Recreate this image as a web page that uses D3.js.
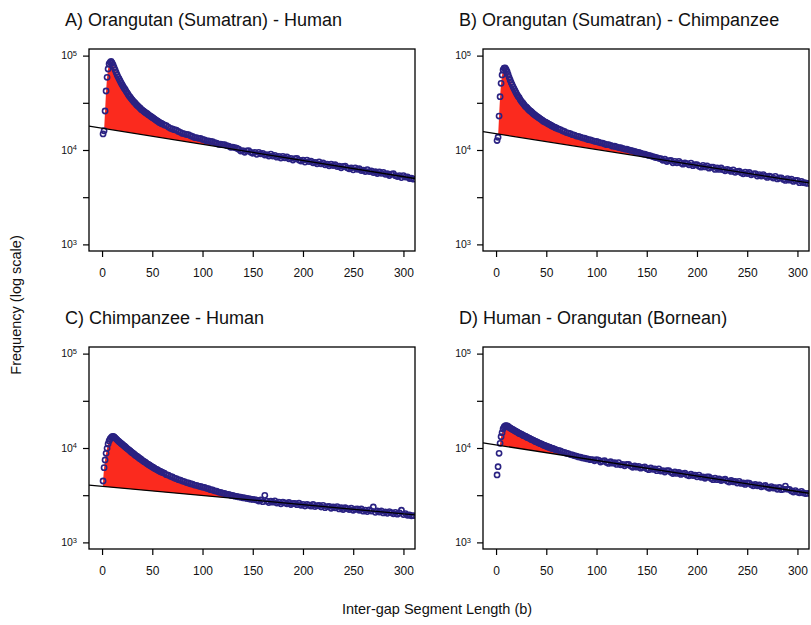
<!DOCTYPE html>
<html><head><meta charset="utf-8">
<script src="https://cdn.jsdelivr.net/npm/d3@7"></script>
<style>body{margin:0;background:#fff}svg{display:block;font-family:"Liberation Sans",Arial,Helvetica,sans-serif}</style>
</head><body><svg id="c" width="811" height="625"></svg>
<script>
// ---------------- data ----------------
const lengths=[1,2,3,4,5,6,7,8,9,10,11,12,13,14,15,16,17,18,19,20,
21,22,23,24,25,26,27,28,29,30,31,32,33,34,35,36,37,38,39,40,
41,42,43,44,45,46,47,48,49,50,51,52,53,54,55,56,57,58,59,60,
62,64,66,68,70,72,74,76,78,80,82,84,86,88,90,92,94,96,98,100,
102,104,106,108,110,112,114,116,118,120,122,124,126,128,130,132,134,136,138,140,
142,144,146,148,150,152,154,156,158,160,162,164,166,168,170,172,174,176,178,180,
182,184,186,188,190,192,194,196,198,200,202,204,206,208,210,212,214,216,218,220,
222,224,226,228,230,232,234,236,238,240,242,244,246,248,250,252,254,256,258,260,
262,264,266,268,270,272,274,276,278,280,282,284,286,288,290,292,294,296,298,300,
302,304,306,308,310];
const xTicks=[0,50,100,150,200,250,300];
const yTicks=[1e3,3162.28,1e4,31622.8,1e5];
const yTickExp=[3,null,4,null,5];
const titles=["A) Orangutan (Sumatran) - Human","B) Orangutan (Sumatran) - Chimpanzee","C) Chimpanzee - Human","D) Human - Orangutan (Bornean)"];
const xLabel="Inter-gap Segment Length (b)";
const yLabel="Frequency (log scale)";

const freqA=[14800,16000,25900,42200,58900,72100,81500,84900,86700,83600,79600,74800,70500,66200,62400,59300,56500,53800,51300,49100,
47100,45200,43800,41800,40300,38800,37300,36300,35100,34000,33000,32100,31400,30400,29700,29000,28300,27700,26900,26500,
26000,25500,25000,24500,24300,23700,23300,22900,22500,22100,21800,21400,21000,20600,20300,20000,19600,19400,19100,18900,
18400,18150,17500,16950,16700,16400,16200,15750,15400,15000,14850,14600,14550,14150,13900,13550,13500,13300,13300,12950,
12800,12450,12450,12300,12250,11950,11800,11500,11500,11400,11400,11150,11000,10700,10750,10600,10450,
10200,9740,9870,9470,9800,9870,9440,9240,9450,8990,9440,9110,9230,8830,8950,8640,9040,8620,8790,8400,
8580,8230,8560,8270,8450,8060,8170,7830,8110,8170,7820,7650,7830,7440,7820,7540,7640,7310,7400,7150,
7480,7140,7280,6960,7100,6810,7080,6840,6990,6670,6760,6480,6710,6760,6470,6330,6480,6160,6470,6240,
6330,6050,6130,5920,6200,5910,6020,5760,5880,5640,5860,5660,5790,5520,5600,5370,5560,5600,5350,5240,
5360,5100,5360,5170,5200,4990,5020,4910];
const freqB=[12600,13650,22900,36700,50900,62400,70500,73500,74000,71600,67900,63100,58900,55200,51900,49100,46500,44300,42200,40200,
38400,36900,35900,34200,33000,32000,31100,30100,29000,28600,27900,27100,26400,25900,25500,24800,24200,23800,23400,22900,
22600,22100,21800,21400,21000,20700,20200,20000,19700,19500,19200,18900,18700,18400,18200,17900,17700,17500,17200,17100,
16700,16450,16000,15750,15300,15100,14900,14550,14400,14050,13950,13700,13450,13350,13100,12850,12800,12600,12350,12300,
12100,11900,11850,11600,11400,11380,11200,10990,10960,10800,10620,10560,10400,10230,10200,10050,9890,9810,9640,9500,
9420,9270,9110,9030,8880,8750,8680,8520,8380,8300,8170,8080,
7780,7980,7550,7730,7750,7320,7570,7320,7580,7280,7070,7320,7180,6960,7260,6820,6980,7010,6740,6580,
6870,6620,6790,6420,6580,6600,6230,6450,6230,6450,6190,6010,6230,6110,5930,6170,5800,5940,5960,5740,
5600,5840,5630,5780,5460,5590,5610,5300,5480,5300,5480,5270,5120,5300,5190,5040,5250,4940,5050,5070,
4880,4760,4970,4790,4910,4650,4760,4770,4510,4660,4510,4480,4420];
const freqC=[4470,6190,7460,8790,9930,11030,11860,12450,12910,13180,13240,13080,12830,12520,12220,11920,11670,11410,11190,10970,
10740,10520,10330,10090,9860,9680,9510,9290,9090,8930,8780,8590,8400,8260,8140,7980,7810,7690,7570,7410,
7270,7160,7060,6920,6790,6700,6620,6500,6390,6310,6230,6120,6020,5950,5890,5790,5700,5640,5580,5500,
5400,5220,5150,5010,4930,4800,4730,4620,4560,4460,4410,4300,4260,4180,4140,4050,4020,3950,3910,3850,
3820,3740,3700,3620,3590,3520,3490,3410,3380,3320,3300,3230,3220,3160,3140,3090,3070,3030,3010,2970,
2960,2920,2900,2870,2850,2840,2800,
2740,2820,2700,3150,2730,2640,2730,2670,2750,2610,2670,2560,2670,2620,2560,2650,2520,2590,2590,2510,
2600,2470,2530,2430,2530,2480,2420,2520,2390,2450,2460,2370,2470,2330,2390,2410,2300,2380,2320,2390,
2260,2330,2230,2330,2280,2230,2310,2190,2250,2260,2190,2260,2140,2200,2120,2210,2150,2370,2080,2160,
2100,2160,2050,2110,2030,2120,2060,2010,2080,1990,2050,2190,1970,2020,1940,1950,1910,1920];
const freqD=[5180,6340,8790,11220,13180,14520,15890,16700,17100,17300,17180,16900,16560,16290,16060,15820,15600,15380,15150,14930,
14800,14530,14280,14150,14050,13810,13600,13470,13380,13150,12940,12830,12740,12520,12320,12220,12130,11920,11740,11640,
11560,11380,11210,11140,11060,10890,10740,10660,10600,10450,10310,10250,10200,10070,9950,9900,9850,9730,9620,9570,
9450,9300,9100,9000,8800,8700,8520,8440,8290,8190,8050,7990,7850,7800,7690,7640,7530,7540,7330,7520,
7440,7110,7250,7350,7030,6860,7150,6910,6980,6700,7000,6640,6710,6480,6710,6690,6430,6250,6480,6260,
6400,6110,6230,6320,6040,5900,6140,5940,5990,5750,6010,5700,5760,5570,5760,5750,5530,5370,5570,5380,
5500,5250,5350,5430,5190,5070,5280,5100,5150,4950,5170,4900,4950,4780,4950,4940,4750,4620,4790,4620,
4720,4520,4600,4670,4460,4350,4530,4390,4430,4250,4440,4210,4260,4110,4260,4250,4080,3970,4110,3970,
4060,3880,3950,4010,3830,3740,3900,3770,3810,3650,3820,3620,3660,3950,3660,3650,3510,3410,3540,3410,
3350,3470,3340,3290,3300];
// fitted exponential (straight on log scale): value at length 0 and at length 300
const fitAt0=[17050,14870,3929,10790];
const fitAt300=[5220,4680,2004,3462];

// ---------------- layout ----------------
const series=[freqA,freqB,freqC,freqD];
const origins=[[89,49],[483,49],[89,347],[483,347]];
const W=326,H=202;
const ptColor="#2a2282", redColor="#fb2a1e";
const svg=d3.select("#c");

const x=d3.scaleLinear().domain([-13,311.5]).range([0,W]);
const y=d3.scaleLog().domain([Math.pow(10,2.93),Math.pow(10,5.07)]).range([H,0]);

series.forEach((vals,p)=>{
  const [ox,oy]=origins[p];
  const g=svg.append("g").attr("transform",`translate(${ox},${oy})`);
  const clipId="clip"+p;
  g.append("clipPath").attr("id",clipId).append("rect").attr("width",W).attr("height",H);
  const l0=Math.log10(fitAt0[p]), l300=Math.log10(fitAt300[p]);
  const fit=v=>Math.pow(10,l0+(l300-l0)*v/300);
  const pts=lengths.map((L,i)=>({x:L,v:vals[i],d:Math.log10(vals[i])-Math.log10(fit(L))}));
  // excess region: first contiguous run of points above the fitted line
  let i0=pts.findIndex(q=>q.d>0);
  let i1=i0; while(i1+1<pts.length && pts[i1+1].d>0) i1++;
  const poly=[];
  if(i0>0){const a=pts[i0-1],b=pts[i0];const t=a.d/(a.d-b.d);const xs=a.x+t*(b.x-a.x);poly.push([xs,fit(xs)]);}
  else poly.push([pts[0].x,fit(pts[0].x)]);
  for(let i=i0;i<=i1;i++) poly.push([pts[i].x,pts[i].v]);
  let xe;
  if(i1+1<pts.length){const a=pts[i1],b=pts[i1+1];const t=a.d/(a.d-b.d);xe=a.x+t*(b.x-a.x);}else xe=pts[i1].x;
  poly.push([xe,fit(xe)]);
  poly.push([poly[0][0],fit(poly[0][0])]);
  const line=d3.line().x(d=>x(d[0])).y(d=>y(d[1]));
  const plot=g.append("g").attr("clip-path",`url(#${clipId})`);
  plot.append("path").attr("d",line(poly)+"Z").attr("fill",redColor).attr("stroke","none");
  plot.selectAll("circle").data(pts).enter().append("circle")
    .attr("cx",d=>x(d.x)).attr("cy",d=>y(d.v)).attr("r",2.6)
    .attr("fill","none").attr("stroke",ptColor).attr("stroke-width",1.6);
  const xd=x.domain();
  plot.append("path").attr("d",line([[xd[0],fit(xd[0])],[xd[1],fit(xd[1])]]))
    .attr("stroke","#000").attr("stroke-width",1.3).attr("fill","none");
  // frame
  g.append("rect").attr("width",W).attr("height",H).attr("fill","none").attr("stroke","#000").attr("stroke-width",1.3);
  // axes
  const ax=g.append("g").attr("transform",`translate(0,${H})`)
    .call(d3.axisBottom(x).tickValues(xTicks).tickSize(6).tickPadding(11).tickFormat(d3.format("d")));
  ax.select(".domain").remove();
  ax.selectAll("line").attr("stroke-width",1.2);
  ax.selectAll("text").attr("font-size","12px").attr("font-family","Liberation Sans, Arial, sans-serif").attr("fill","#111");
  const ay=g.append("g").call(d3.axisLeft(y).tickValues(yTicks).tickSize(6).tickPadding(6).tickFormat(()=>""));
  ay.select(".domain").remove();
  ay.selectAll("line").attr("stroke-width",1.2);
  ay.selectAll(".tick text").each(function(d,i){
    const t=d3.select(this).attr("font-family","Liberation Sans, Arial, sans-serif").attr("fill","#111").attr("font-size","10.5px");
    if(yTickExp[i]!==null){
      t.text("10");
      t.append("tspan").attr("dy","-0.5em").attr("font-size","7.5px").text(yTickExp[i]);
    }
  });
  svg.append("text").attr("x",ox-24).attr("y",oy-23).attr("font-size","18px").attr("fill","#111").text(titles[p]);
});

svg.append("text").attr("transform","translate(21,305) rotate(-90)").attr("text-anchor","middle")
  .attr("font-size","14.5px").attr("fill","#111").text(yLabel);
svg.append("text").attr("x",437).attr("y",614).attr("text-anchor","middle")
  .attr("font-size","14.5px").attr("fill","#111").text(xLabel);
</script></body></html>
